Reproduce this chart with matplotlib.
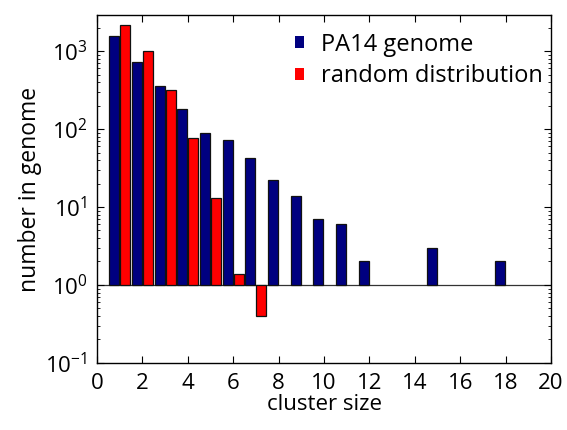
import matplotlib
matplotlib.use("Agg")
import matplotlib.pyplot as plt
import numpy as np
from matplotlib.ticker import LogLocator, NullFormatter

plt.rcParams["font.family"] = ["Open Sans", "DejaVu Sans"]
plt.rcParams["mathtext.fontset"] = "custom"
plt.rcParams["mathtext.rm"] = "Open Sans"

cluster_size = np.arange(1, 19)
genome = [1550, 720, 360, 180, 90, 73, 42, 22, 14, 7, 6, 2, 0, 0, 3, 0, 0, 2]
random_size = np.arange(1, 8)
random_dist = [2150, 1000, 320, 76, 13, 1.4, 0.4]

BLUE = "#000080"
RED = "#FF0000"
BASE = 1.0

fig = plt.figure(figsize=(5.67, 4.30), dpi=100)
ax = fig.add_axes([0.171, 0.156, 0.801, 0.809])

width = 0.44
off = 0.245
g = np.array(genome, dtype=float)
mask = g > 0
ax.bar(cluster_size[mask] - off, g[mask] - BASE, bottom=BASE, width=width,
       color=BLUE, edgecolor="#111111", linewidth=0.9, label="PA14 genome")
r = np.array(random_dist)
ax.bar(random_size + off, r - BASE, bottom=BASE, width=width,
       color=RED, edgecolor="#111111", linewidth=0.9, label="random distribution")
ax.axhline(BASE, color="#333333", linewidth=0.9, zorder=0.5)

ax.set_yscale("log")
ax.set_ylim(0.1, 2900)
ax.set_xlim(0, 20)
ax.set_xticks(np.arange(0, 21, 2))
ax.yaxis.set_major_locator(LogLocator(base=10, numticks=10))
ax.yaxis.set_minor_locator(LogLocator(base=10, subs=np.arange(2, 10), numticks=10))
ax.yaxis.set_minor_formatter(NullFormatter())

ax.tick_params(direction="in", which="both", top=True, right=True, labelsize=16, pad=7)
ax.tick_params(which="major", length=5)
ax.tick_params(which="minor", length=2.5)
for s in ax.spines.values():
    s.set_linewidth(1.0)

ax.set_xlabel("cluster size", fontsize=16, labelpad=0)
ax.set_ylabel("number in genome", fontsize=16.5, labelpad=2)

leg = ax.legend(loc="upper right", bbox_to_anchor=(1.012, 0.99), frameon=False,
                fontsize=17, handlelength=0.4, handleheight=0.4, handletextpad=0.7,
                borderaxespad=0.2, labelspacing=0.32)
for h in leg.legend_handles:
    h.set_linewidth(0)

fig.savefig("out.png", dpi=100)
